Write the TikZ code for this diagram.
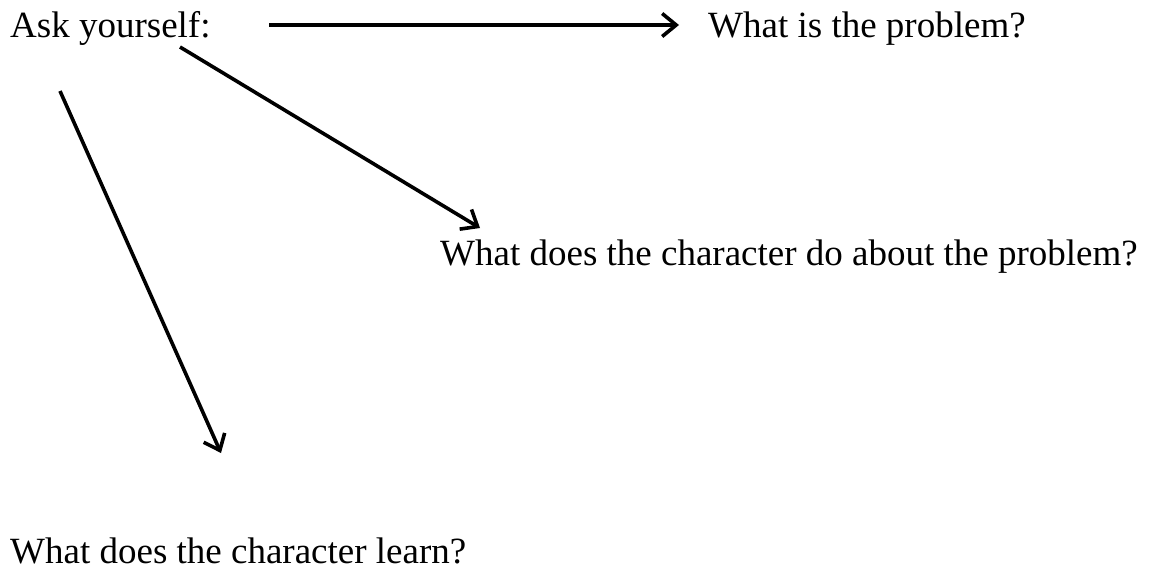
\documentclass[tikz,border=0pt]{standalone}
\usepackage{fontspec}
\setmainfont{Liberation Serif}
\usetikzlibrary{arrows.meta}
\begin{document}
\begin{tikzpicture}[x=1pt,y=-1pt,
  lbl/.style={anchor=base west,inner sep=0pt,font=\fontsize{37}{44}\selectfont},
  arr/.style={line width=3.6pt,-{Straight Barb[length=14pt,width=23pt,line width=3.6pt]}}]
\useasboundingbox (0,0) rectangle (1156,573);
\node[lbl] (ask) at (10,37) {Ask yourself:};
\node[lbl] (prob) at (708,37) {What is the problem?};
\node[lbl] (do) at (440,265) {What does the character do about the problem?};
\node[lbl] (learn) at (10,563) {What does the character learn?};
\coordinate (a1s) at (269,25);
\coordinate (a1e) at (679,25);
\coordinate (a2s) at (180,47);
\coordinate (a2e) at (480,228);
\coordinate (a3s) at (60,91);
\coordinate (a3e) at (221,453);
\draw[arr] (a1s) -- (a1e);
\draw[arr] (a2s) -- (a2e);
\draw[arr] (a3s) -- (a3e);
\end{tikzpicture}
\end{document}
